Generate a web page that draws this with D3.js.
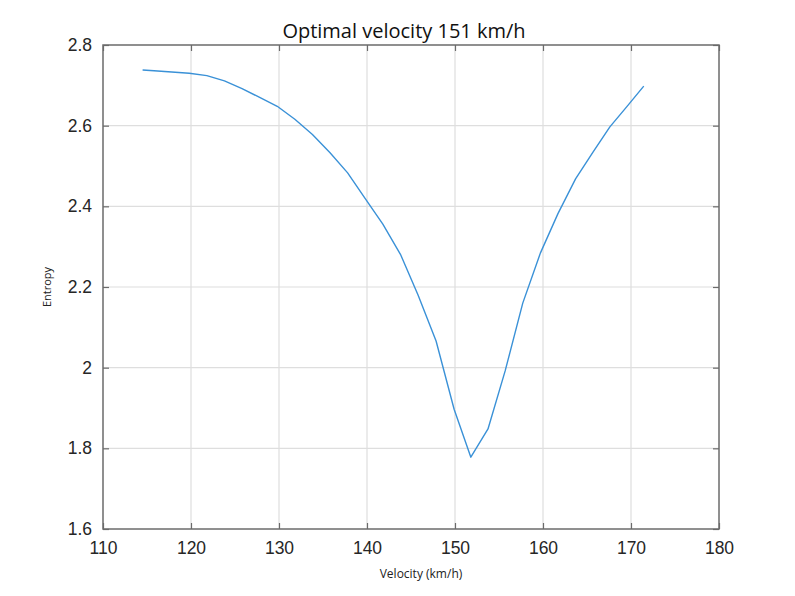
<!DOCTYPE html>
<html>
<head>
<meta charset="utf-8">
<script src="https://cdn.jsdelivr.net/npm/d3@7"></script>
<style>
  html, body { margin: 0; padding: 0; background: #fff; }
  svg { display: block; }
</style>
</head>
<body>
<svg id="chart" width="795" height="596"></svg>
<script>
// ---- data ----
const velocity = [114.5, 115.8, 117.8, 119.8, 121.8, 123.8, 125.8, 127.8, 129.8, 131.8,
  133.8, 135.8, 137.8, 139.8, 141.8, 143.8, 145.8, 147.85, 149.9, 151.8,
  153.75, 155.7, 157.7, 159.7, 161.7, 163.7, 165.7, 167.6, 169.6, 171.45];
const entropy = [2.738, 2.736, 2.733, 2.730, 2.724, 2.711, 2.692, 2.670, 2.648, 2.616,
  2.578, 2.533, 2.483, 2.419, 2.356, 2.281, 2.180, 2.066, 1.897, 1.778,
  1.848, 1.992, 2.160, 2.284, 2.382, 2.468, 2.535, 2.597, 2.649, 2.698];
const xTicks = [110, 120, 130, 140, 150, 160, 170, 180];
const yTicks = [1.6, 1.8, 2.0, 2.2, 2.4, 2.6, 2.8];
const titleText = "Optimal velocity 151 km/h";
const xLabel = "Velocity (km/h)";
const yLabel = "Entropy";

// ---- layout ----
const svg = d3.select("#chart");
const mLeft = 103, mRight = 719, mTop = 45, mBottom = 529;
const x = d3.scaleLinear().domain([110, 180]).range([mLeft, mRight]);
const y = d3.scaleLinear().domain([1.6, 2.8]).range([mBottom, mTop]);

// grid
svg.append("g").selectAll("line").data(xTicks.slice(1, -1)).join("line")
  .attr("x1", d => x(d)).attr("x2", d => x(d))
  .attr("y1", mTop).attr("y2", mBottom)
  .attr("stroke", "#dedede").attr("stroke-width", 1.2);
svg.append("g").selectAll("line").data(yTicks.slice(1, -1)).join("line")
  .attr("y1", d => y(d)).attr("y2", d => y(d))
  .attr("x1", mLeft).attr("x2", mRight)
  .attr("stroke", "#dedede").attr("stroke-width", 1.2);

// axes (ticks inward)
const axisColor = "#6b6b6b";
const tickFont = "'Liberation Sans', Arial, sans-serif";
function styleAxis(g) {
  g.select(".domain").remove();
  g.selectAll(".tick line").attr("stroke", axisColor).attr("stroke-width", 1.2);
  g.selectAll(".tick text").attr("fill", "#262626")
    .style("font-family", tickFont).style("font-size", "17.5px");
}
svg.append("g").attr("transform", `translate(0,${mBottom})`)
  .call(d3.axisBottom(x).tickValues(xTicks).tickFormat(d3.format("d"))
    .tickSizeInner(-6).tickSizeOuter(0).tickPadding(13))
  .call(styleAxis);
svg.append("g").attr("transform", `translate(0,${mTop})`)
  .call(d3.axisTop(x).tickValues(xTicks).tickFormat("")
    .tickSizeInner(-6).tickSizeOuter(0))
  .call(styleAxis);
svg.append("g").attr("transform", `translate(${mLeft},0)`)
  .call(d3.axisLeft(y).tickValues(yTicks).tickFormat(d => d === 2 ? "2" : d3.format(".1f")(d))
    .tickSizeInner(-6).tickSizeOuter(0).tickPadding(11))
  .call(styleAxis);
svg.append("g").attr("transform", `translate(${mRight},0)`)
  .call(d3.axisRight(y).tickValues(yTicks).tickFormat("")
    .tickSizeInner(-6).tickSizeOuter(0))
  .call(styleAxis);

// box
svg.append("rect").attr("x", mLeft).attr("y", mTop)
  .attr("width", mRight - mLeft).attr("height", mBottom - mTop)
  .attr("fill", "none").attr("stroke", axisColor).attr("stroke-width", 1.5);

// line
const pts = velocity.map((v, i) => [v, entropy[i]]);
svg.append("path").datum(pts)
  .attr("fill", "none").attr("stroke", "#3a91d7").attr("stroke-width", 1.4)
  .attr("stroke-linejoin", "round")
  .attr("d", d3.line().x(d => x(d[0])).y(d => y(d[1])));

// texts
svg.append("text").attr("x", 404).attr("y", 38)
  .attr("text-anchor", "middle").attr("fill", "#111")
  .style("font-family", "'Open Sans', 'Noto Sans', sans-serif").style("font-size", "20px")
  .text(titleText);
svg.append("text").attr("x", 421).attr("y", 578)
  .attr("text-anchor", "middle").attr("fill", "#222")
  .style("font-family", "'Open Sans', 'Noto Sans', sans-serif").style("font-size", "12px")
  .text(xLabel);
svg.append("text").attr("transform", `translate(51,${(mTop + mBottom) / 2}) rotate(-90)`)
  .attr("text-anchor", "middle").attr("fill", "#222")
  .style("font-family", "'Open Sans', 'Noto Sans', sans-serif").style("font-size", "11px")
  .text(yLabel);
</script>
</body>
</html>
